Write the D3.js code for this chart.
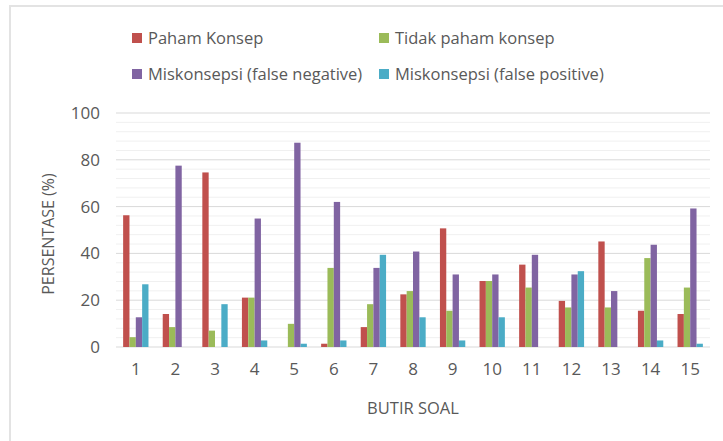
<!DOCTYPE html>
<html>
<head>
<meta charset="utf-8">
<script src="https://cdn.jsdelivr.net/npm/d3@7"></script>
<style>
  body { margin: 0; background: #fff; }
  text { font-family: "Open Sans", sans-serif; fill: #595959; }
</style>
</head>
<body>
<svg id="chart" width="723" height="441"></svg>
<script>
// data
const butirSoal = ["1","2","3","4","5","6","7","8","9","10","11","12","13","14","15"];
const seriesNames = ["Paham Konsep", "Tidak paham konsep", "Miskonsepsi (false negative)", "Miskonsepsi (false positive)"];
const pahamKonsep  = [56.3, 14.1, 74.6, 21.1, 0, 1.4, 8.5, 22.5, 50.7, 28.2, 35.2, 19.7, 45.1, 15.5, 14.1];
const tidakPaham   = [4.2, 8.5, 7.0, 21.1, 9.9, 33.8, 18.3, 23.9, 15.5, 28.2, 25.4, 16.9, 16.9, 38.0, 25.4];
const falseNeg     = [12.7, 77.5, 0, 54.9, 87.3, 62.0, 33.8, 40.8, 31.0, 31.0, 39.4, 31.0, 23.9, 43.7, 59.2];
const falsePos     = [26.8, 0, 18.3, 2.8, 1.4, 2.8, 39.4, 12.7, 2.8, 12.7, 0, 32.4, 0, 2.8, 1.4];
const yTicks = [0, 20, 40, 60, 80, 100];

const colors = ["#C0504D", "#9BBB59", "#8064A2", "#4BACC6"];
const allSeries = [pahamKonsep, tidakPaham, falseNeg, falsePos];

const svg = d3.select("#chart");

// light frame around the chart
svg.append("path")
  .attr("d", "M10,730 V6 H730")
  .attr("fill", "none")
  .attr("stroke", "#e3e3e3")
  .attr("stroke-width", 2);

const plotL = 116, plotR = 710, plotT = 113, plotB = 347;

const x0 = d3.scaleBand()
  .domain(butirSoal)
  .range([plotL, plotR])
  .paddingInner(0.36)
  .paddingOuter(0.18);

const x1 = d3.scaleBand()
  .domain(d3.range(seriesNames.length))
  .range([0, x0.bandwidth()]);

const y = d3.scaleLinear().domain([0, 100]).range([plotB, plotT]);

// minor gridlines every 4
svg.append("g")
  .selectAll("line")
  .data(d3.range(4, 100, 4).filter(v => v % 20 !== 0))
  .join("line")
  .attr("x1", plotL).attr("x2", plotR)
  .attr("y1", d => y(d)).attr("y2", d => y(d))
  .attr("stroke", "#f0f0f0");

// major gridlines
svg.append("g")
  .selectAll("line")
  .data(yTicks)
  .join("line")
  .attr("x1", plotL).attr("x2", plotR)
  .attr("y1", d => y(d)).attr("y2", d => y(d))
  .attr("stroke", "#d9d9d9");

// bars
const rows = butirSoal.map((k, i) => ({ key: k, values: allSeries.map(s => s[i]) }));

svg.append("g")
  .selectAll("g")
  .data(rows)
  .join("g")
  .attr("transform", d => `translate(${x0(d.key)},0)`)
  .selectAll("rect")
  .data(d => d.values.map((v, j) => ({ v, j })))
  .join("rect")
  .attr("x", d => x1(d.j))
  .attr("width", x1.bandwidth())
  .attr("y", d => y(d.v))
  .attr("height", d => y(0) - y(d.v))
  .attr("fill", d => colors[d.j]);

// y axis labels
const yAxis = svg.append("g")
  .attr("transform", `translate(${plotL - 16},0)`)
  .call(d3.axisLeft(y).tickValues(yTicks).tickSize(0).tickPadding(0));
yAxis.select(".domain").remove();
yAxis.selectAll("text").style("font-size", "17px").attr("fill", "#595959");

// x axis labels
const xAxis = svg.append("g")
  .attr("transform", `translate(0,${plotB})`)
  .call(d3.axisBottom(x0).tickSize(0).tickPadding(16));
xAxis.select(".domain").remove();
xAxis.selectAll("text").style("font-size", "17px").attr("fill", "#595959");

// axis titles
svg.append("text")
  .attr("transform", `translate(54,234) rotate(-90)`)
  .attr("text-anchor", "middle")
  .style("font-size", "16px")
  .text("PERSENTASE (%)");

svg.append("text")
  .attr("x", (plotL + plotR) / 2)
  .attr("y", 414)
  .attr("text-anchor", "middle")
  .style("font-size", "16.5px")
  .text("BUTIR SOAL");

// legend
const legendPos = [[132, 38], [379, 38], [132, 74], [379, 74]];
const legend = svg.append("g")
  .selectAll("g")
  .data(seriesNames)
  .join("g")
  .attr("transform", (d, i) => `translate(${legendPos[i][0]},${legendPos[i][1]})`);

legend.append("rect")
  .attr("x", 0).attr("y", -5)
  .attr("width", 10).attr("height", 10)
  .attr("fill", (d, i) => colors[i]);

legend.append("text")
  .attr("x", 16)
  .attr("dy", "0.35em")
  .style("font-size", "16.5px")
  .text(d => d);
</script>
</body>
</html>
